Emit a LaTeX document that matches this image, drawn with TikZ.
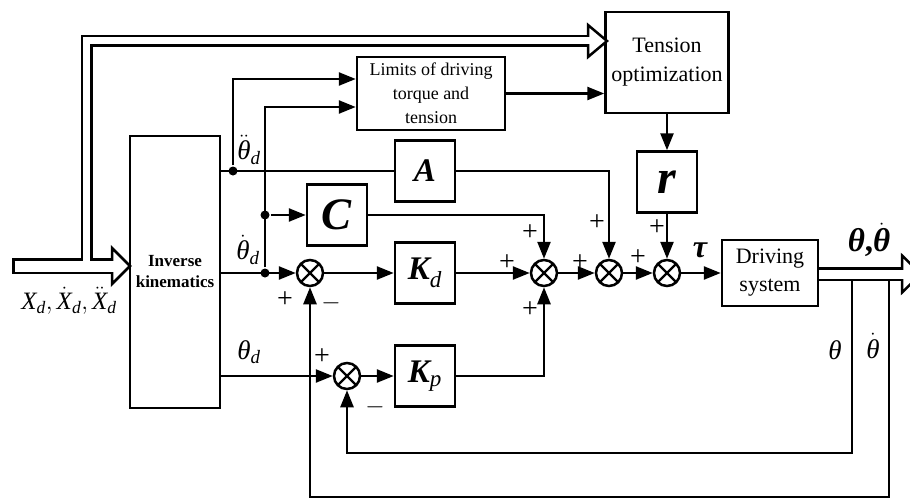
\documentclass[tikz,border=0pt]{standalone}
\usepackage{amsmath}
\usepackage{fontspec}
\setmainfont{Liberation Serif}
\usetikzlibrary{positioning,arrows.meta,calc}

% italic / bold italic symbols in the text font
\newcommand{\itsym}[1]{\text{\itshape #1}}
\newcommand{\bfsym}[1]{\text{\bfseries\itshape #1}}

\begin{document}
\begin{tikzpicture}[x=1pt, y=-1pt, line width=2.5pt,
    blk/.style={rectangle, draw, inner sep=0pt, minimum width=60pt, minimum height=61pt, align=center},
    sumc/.style={circle, draw, minimum size=26pt, inner sep=0pt,
        path picture={\draw[line width=2.2pt] (path picture bounding box.north west) -- (path picture bounding box.south east)
            (path picture bounding box.north east) -- (path picture bounding box.south west);}},
    arrow/.style={-{Triangle[length=17pt,width=13pt]}},
    dot/.style={circle, fill, inner sep=0pt, minimum size=9pt},
    sgn/.style={font=\fontsize{28}{28}\selectfont, inner sep=0pt},
    lab/.style={font=\fontsize{27}{27}\selectfont, inner sep=0pt},
    big/.style={font=\fontsize{33}{33}\selectfont}
]
\useasboundingbox (0,0) rectangle (910,503);

% Blocks
\node[blk, minimum width=90pt, minimum height=272pt, font=\fontsize{17}{21}\selectfont\bfseries] (ik) at (175,272) {Inverse\\kinematics};
\node[blk, minimum width=148pt, minimum height=73pt, font=\fontsize{18}{24}\selectfont] (lim) at (431,93.5) {Limits of driving\\torque and\\tension};
\node[blk, minimum width=123pt, minimum height=101pt, font=\fontsize{22}{29}\selectfont] (tens) at (667,62.5) {Tension\\optimization};
\node[blk, big] (boxA) at (425,171) {\bfseries\itshape A};
\node[blk, font=\fontsize{45}{45}\selectfont] (boxC) at (337,215) {\bfseries\itshape C};
\node[blk, big] (Kd) at (425,273) {$\bfsym{K}_{\itsym{d}}$};
\node[blk, big] (Kp) at (425,376) {$\bfsym{K}_{\itsym{p}}$};
\node[blk, font=\fontsize{48}{48}\selectfont] (r) at (667,182) {\bfseries\itshape r};
\node[blk, minimum width=96pt, minimum height=66pt, font=\fontsize{22}{28}\selectfont] (drv) at (770,273) {Driving\\system};

% Summing junctions
\node[sumc] (s1) at (310,273) {};
\node[sumc] (s2) at (347,376) {};
\node[sumc] (s3) at (544,273) {};
\node[sumc] (s4) at (609,273) {};
\node[sumc] (s5) at (667,273) {};

% Branch points
\node[dot] (d1) at (233,171) {};
\node[dot] (d2) at (265,273) {};
\node[dot] (d3) at (265,215) {};

% Hollow signal arrows
\coordinate (xin) at (12,266);
\coordinate (xj) at (86.5,266);
\coordinate (xt) at (86.5,41);
\coordinate (ikb) at (112,266);
\coordinate (ikt) at (130,266);
\coordinate (tb) at (588,41);
\coordinate (tt) at (607,41);
\coordinate (yout) at (818,274);
\coordinate (yb) at (902,274);
\coordinate (yt) at (921,274);
\coordinate (fb1) at (852,280);
\coordinate (fb2) at (889,280);
\coordinate (fc1) at (852,453);
\coordinate (fc2) at (889,497);

\draw[line width=16pt] (xin) -- (ikb);
\draw[line width=12pt] (xj) -- (xt) -- (tb);
\draw[line width=14pt] (yout) -- (yb);

% Feedback
\draw[arrow] (fb1) -- (fc1) -| (s2);
\draw[arrow] (fb2) -- (fc2) -| (s1);

\filldraw[fill=white, line join=miter] ($(ikb)+(0,-18)$) -- (ikt) -- ($(ikb)+(0,18)$) -- cycle;
\filldraw[fill=white, line join=miter] ($(tb)+(0,-16)$) -- (tt) -- ($(tb)+(0,16)$) -- cycle;
\filldraw[fill=white, line join=miter] ($(yb)+(0,-18.5)$) -- (yt) -- ($(yb)+(0,18.5)$) -- cycle;
\draw[white, line width=11pt, shorten <=2.5pt, shorten >=-1.5pt] (xin) -- (ikb);
\draw[white, line width=7pt, shorten >=-1.5pt] (xj) -- (xt) -- (tb);
\draw[white, line width=9pt, shorten <=1.25pt, shorten >=-1.5pt] (yout) -- (yb);

% Signal lines
\draw (ik.east |- d1) -- (boxA);
\draw[arrow] (d1) |- ($(lim.west)+(0,-14.5)$);
\draw[arrow] (d2) |- ($(lim.west)+(0,13.5)$);
\draw[arrow] (d3) -- (boxC);
\draw[arrow] (ik.east |- s1) -- (s1);
\draw[arrow] (ik.east |- s2) -- (s2);
\draw[arrow] (s1) -- (Kd);
\draw[arrow] (s2) -- (Kp);
\draw[arrow] (Kd) -- (s3);
\draw[arrow] (Kp) -| (s3);
\draw[arrow] (boxC) -| (s3);
\draw[arrow] (boxA) -| (s4);
\draw[arrow] (s3) -- (s4);
\draw[arrow] (s4) -- (s5);
\draw[arrow] (s5) -- (drv);
\draw[arrow] (lim.east) -- (lim.east -| tens.west);
\draw[arrow] (tens) -- (r);
\draw[arrow] (r) -- (s5);

% Signs
\node[sgn] at (285,300) {+};
\node[sgn] at (331,303) {$-$};
\node[sgn] at (322,357) {+};
\node[sgn] at (375,407) {$-$};
\node[sgn] at (507,263) {+};
\node[sgn] at (530,233) {+};
\node[sgn] at (530,310) {+};
\node[sgn] at (580,263) {+};
\node[sgn] at (597,223) {+};
\node[sgn] at (638,258) {+};
\node[sgn] at (657,228) {+};

% Signal labels
\node[lab] (l1) at (249,150) {$\ddot{\itsym{θ}}_{\itsym{d}}$};
\node[lab] (l2) at (248,250) {$\dot{\itsym{θ}}_{\itsym{d}}$};
\node[lab] (l3) at (249,352) {$\itsym{θ}_{\itsym{d}}$};
\node[lab, font=\fontsize{25}{25}\selectfont] (lx) at (69,301) {$\itsym{X}_{\itsym{d}},\dot{\itsym{X}}_{\itsym{d}},\ddot{\itsym{X}}_{\itsym{d}}$};
\node[lab, font=\fontsize{32}{32}\selectfont] (ltau) at (700,250) {\bfseries\itshape τ};
\node[lab, font=\fontsize{33}{33}\selectfont] (lout) at (869,240) {$\bfsym{θ}\text{\bfseries,}\dot{\bfsym{θ}}$};
\node[lab] (lth) at (835,350) {\itshape θ};
\node[lab] (ldth) at (873,346) {$\dot{\itsym{θ}}$};
\end{tikzpicture}
\end{document}
